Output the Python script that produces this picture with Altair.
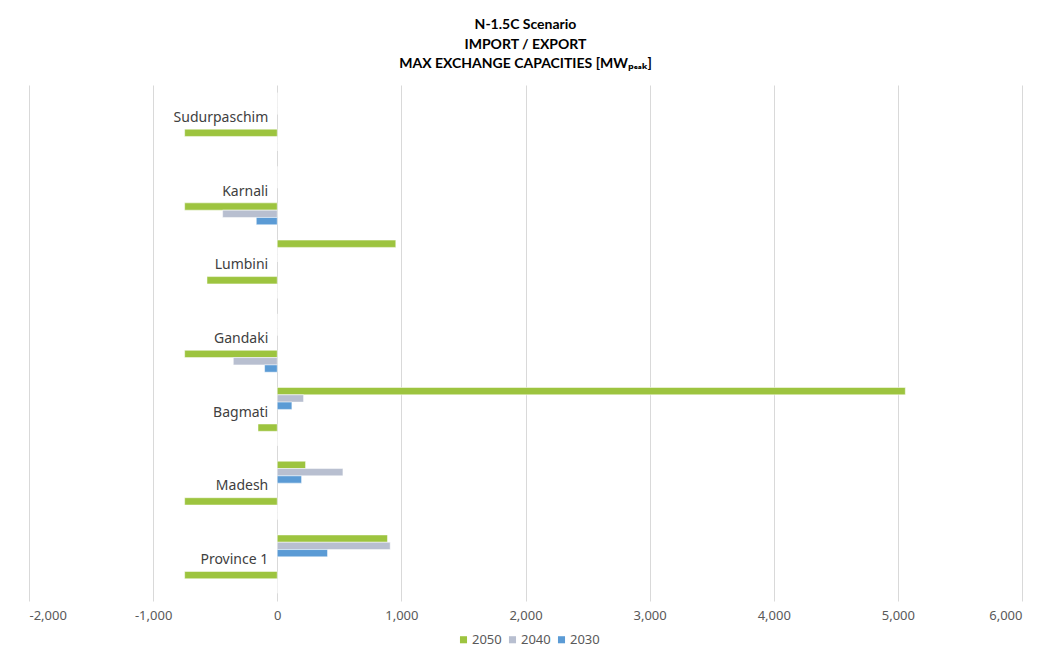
import altair as alt
import pandas as pd

provinces = ["Sudurpaschim", "Karnali", "Lumbini", "Gandaki", "Bagmati", "Madesh", "Province 1"]
years = ["2050", "2040", "2030"]
export_2050 = [0, 0, 955, 0, 5060, 228, 888]
export_2040 = [0, 0, 0, 0, 212, 529, 910]
export_2030 = [0, 0, 0, 0, 118, 196, 405]
import_2050 = [-746, -746, -566, -746, -155, -746, -746]
import_2040 = [0, -440, 0, -354, 0, 0, 0]
import_2030 = [0, -169, 0, -102, 0, 0, 0]

colors = ["#9DC43F", "#B8BFD0", "#5B9BD5"]
slots = ["E2050", "E2040", "E2030", "gap1", "gap2", "I2050", "I2040", "I2030"]

rows = []
series = {
    ("E", "2050"): export_2050, ("E", "2040"): export_2040, ("E", "2030"): export_2030,
    ("I", "2050"): import_2050, ("I", "2040"): import_2040, ("I", "2030"): import_2030,
}
for (d, y), vals in series.items():
    for p, v in zip(provinces, vals):
        rows.append({"province": p, "year": y, "slot": d + y, "value": v})
df = pd.DataFrame(rows)
labels_df = pd.DataFrame({"province": provinces, "x": [0] * len(provinces)})

FONT = "Noto Sans"

yscale = alt.Scale(domain=provinces, paddingInner=0.208, paddingOuter=0.104)
xscale = alt.Scale(domain=[-2000, 6000], nice=False, zero=False)

bars = alt.Chart(df).mark_bar(stroke="white", strokeWidth=0.5).encode(
    x=alt.X("value:Q", scale=xscale,
            axis=alt.Axis(values=list(range(-2000, 6001, 1000)), title=None,
                          labelExpr="replace(format(datum.value, ',.0f'), '\u2212', '-')",
                          domain=False, ticks=False, grid=True, gridColor="#D9D9D9",
                          gridWidth=1, labelFontSize=13, labelColor="#595959",
                          labelFont=FONT, labelPadding=8)),
    y=alt.Y("province:N", scale=yscale, axis=None),
    yOffset=alt.YOffset("slot:N", scale=alt.Scale(domain=slots, paddingInner=0, paddingOuter=0)),
    color=alt.Color("year:N", scale=alt.Scale(domain=years, range=colors),
                    legend=alt.Legend(title=None, orient="none", legendX=428, legendY=548,
                                      direction="horizontal",
                                      symbolType="square", symbolSize=50, symbolStrokeWidth=0,
                                      labelFontSize=13, labelColor="#595959", labelFont=FONT,
                                      columnPadding=4, labelOffset=2)),
)

text = alt.Chart(labels_df).mark_text(align="right", baseline="middle", dx=-9, dy=-4,
                                       fontSize=14, font=FONT, color="#404040").encode(
    x=alt.X("x:Q", scale=xscale),
    y=alt.Y("province:N", scale=yscale),
    text="province:N",
)

chart = alt.layer(bars, text).properties(
    width=993, height=516,
    autosize=alt.AutoSizeParams(type="none"),
    padding={"left": 21, "top": 77, "right": 15, "bottom": 52},
    title=alt.TitleParams(
        text=["N-1.5C Scenario", "IMPORT / EXPORT", "MAX EXCHANGE CAPACITIES [MWₚₑₐₖ]"],
        fontSize=14, font="Lato, Noto Sans", fontWeight="bold", color="#000000",
        lineHeight=19.5, anchor="middle", offset=14,
    ),
).configure_view(stroke=None)

chart.save("out.html", embed_options={"renderer": "svg", "actions": False})
